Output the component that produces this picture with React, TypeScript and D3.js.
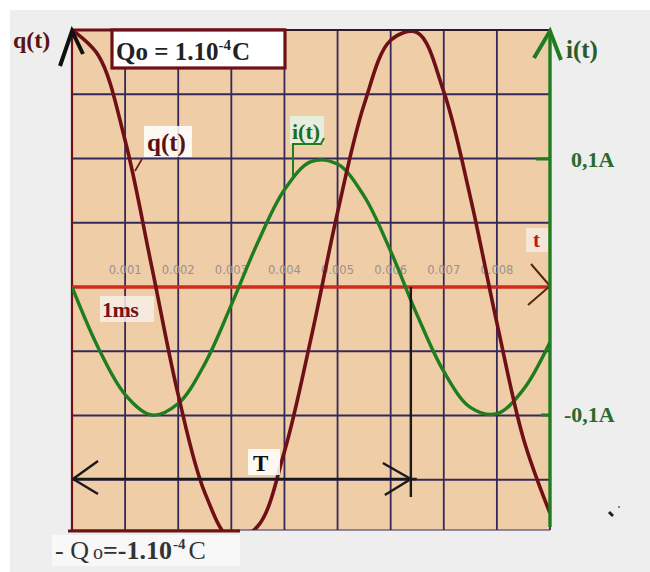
import React from "react";
import * as d3 from "d3";

// time samples in ms
const timesMs = [0, 0.5, 1, 1.5, 2, 2.5, 3, 3.5, 4, 4.5, 5, 5.5, 6, 6.5, 7, 7.5, 8, 8.5, 9];
// q(t), in units of Q0 = 1e-4 C
const qValues = [1.0, 0.9, 0.57, 0.08, -0.42, -0.8, -0.98, -0.93, -0.64, -0.2, 0.29, 0.71, 0.96, 0.99, 0.76, 0.35, -0.14, -0.59, -0.88];
// i(t), in units of 0.1 A
const iValues = [0, -0.48, -0.84, -1.0, -0.91, -0.6, -0.14, 0.35, 0.76, 0.98, 0.96, 0.71, 0.28, -0.22, -0.66, -0.94, -0.99, -0.8, -0.43];
// t-axis tick labels (seconds)
const tickLabels = ["0.001", "0.002", "0.003", "0.004", "0.005", "0.006", "0.007", "0.008"];
const gridMs = [0, 1, 2, 3, 4, 5, 6, 7, 8, 9];
const gridQ = [1, 0.75, 0.5, 0.25, 0, -0.25, -0.5, -0.75];
const periodMs = 6.38;

const W = 650;
const H = 572;
const L = 72;
const R = 550;
const TOP = 30;
const BOT = 530;

export default function App() {
  const x = d3.scaleLinear().domain([0, 9]).range([L, R]);
  const yq = d3.scaleLinear().domain([-1, 1]).range([544, TOP]);
  const yi = d3.scaleLinear().domain([-1, 1]).range([415, 159]);
  const y0 = yq(0);

  const qLine = d3
    .line<number>()
    .x((_, k) => x(timesMs[k]))
    .y((d) => yq(d))
    .curve(d3.curveCatmullRom.alpha(0.5));
  const iLine = d3
    .line<number>()
    .x((_, k) => x(timesMs[k]))
    .y((d) => yi(d))
    .curve(d3.curveCatmullRom.alpha(0.5));

  const serif = "'Liberation Serif', 'DejaVu Serif', serif";
  const gridColor = "#35285a";
  const maroon = "#6e1016";
  const green = "#1f7d1f";
  const xT = x(periodMs);

  return (
    <svg
      width={W}
      height={H}
      style={{ position: "absolute", left: 0, top: 0 }}
      xmlns="http://www.w3.org/2000/svg"
    >
      <defs>
        <clipPath id="plotClip">
          <rect x={L} y={20} width={R - L} height={BOT - 20} />
        </clipPath>
      </defs>
      <rect x={0} y={0} width={W} height={H} fill="#ffffff" />
      <rect x={10} y={10} width={W - 10} height={H - 10} fill="#eeeeee" />
      {/* plot background */}
      <rect x={L} y={TOP} width={R - L} height={BOT - TOP} fill="#efcda7" />

      {/* grid */}
      {gridMs.map((m) => (
        <line key={"v" + m} x1={x(m)} x2={x(m)} y1={TOP} y2={BOT} stroke={gridColor} strokeWidth={1.8} />
      ))}
      {gridQ.map((q) => (
        <line key={"h" + q} x1={L} x2={R} y1={yq(q)} y2={yq(q)} stroke={gridColor} strokeWidth={1.8} />
      ))}
      <line x1={L} x2={R} y1={BOT} y2={BOT} stroke={gridColor} strokeWidth={1.2} />
      <line x1={L} x2={L} y1={TOP} y2={BOT} stroke={maroon} strokeWidth={2.2} />

      {/* tick labels */}
      {tickLabels.map((t, k) => (
        <text
          key={t}
          x={x(k + 1)}
          y={274}
          textAnchor="middle"
          fontFamily="'DejaVu Sans', sans-serif"
          fontSize={11.5}
          fill="#9a9090"
        >
          {t}
        </text>
      ))}

      {/* t axis */}
      <line x1={L} x2={R} y1={y0} y2={y0} stroke="#d02a1c" strokeWidth={3.4} />
      <polyline
        points={`${R - 19},${y0 - 23} ${R},${y0 - 1} ${R - 22},${y0 + 18}`}
        fill="none"
        stroke="#5a2410"
        strokeWidth={2}
      />
      <rect x={526} y={228} width={22} height={24} fill="#f6ece4" opacity={0.8} />
      <text x={533} y={247} fontFamily={serif} fontWeight="bold" fontSize={21} fill="#c01818">
        t
      </text>

      {/* curves */}
      <g clipPath="url(#plotClip)">
        <path d={iLine(iValues) || ""} fill="none" stroke={green} strokeWidth={3.4} />
        <path d={qLine(qValues) || ""} fill="none" stroke={maroon} strokeWidth={3.6} />
      </g>

      {/* period T */}
      <line x1={xT} x2={xT} y1={y0} y2={497} stroke="#1a1a1a" strokeWidth={2.4} />
      <line x1={L} x2={xT + 6} y1={479} y2={479} stroke="#1a1a1a" strokeWidth={2.4} />
      <polyline points={`${L + 26},${461} ${L + 1},${479} ${L + 26},${494}`} fill="none" stroke="#1a1a1a" strokeWidth={2.4} />
      <polyline points={`${xT - 28},${463} ${xT},${479} ${xT - 26},${495}`} fill="none" stroke="#1a1a1a" strokeWidth={2.4} />
      <rect x={248} y={449} width={32} height={26} fill="#ffffff" opacity={0.85} />
      <text x={253} y={471} fontFamily={serif} fontWeight="bold" fontSize={23} fill="#111">
        T
      </text>

      {/* 1ms label */}
      <rect x={100} y={296} width={54} height={26} fill="#f7ede6" opacity={0.85} />
      <text x={102} y={317} fontFamily={serif} fontWeight="bold" fontSize={22} fill="#7a1016" letterSpacing={-0.5}>
        1ms
      </text>

      {/* q(t) label on curve */}
      <rect x={144} y={126} width={48} height={31} fill="#ffffff" opacity={0.85} />
      <text x={147} y={151} fontFamily={serif} fontWeight="bold" fontSize={25} fill="#5a1010">
        q(t)
      </text>
      <line x1={142} x2={135} y1={159} y2={171} stroke={maroon} strokeWidth={1.6} />

      {/* i(t) label on curve */}
      <rect x={290} y={116} width={34} height={28} fill="#e4f2e4" opacity={0.9} />
      <text x={292} y={139} fontFamily={serif} fontWeight="bold" fontSize={22} fill="#1d6d1d">
        i(t)
      </text>
      <polyline points={`${293},${176} ${293},${144} ${321},${144} ${324},${138}`} fill="none" stroke={green} strokeWidth={2} />

      {/* Qo box */}
      <line x1={L} x2={R} y1={TOP} y2={TOP} stroke="#2a1a2a" strokeWidth={1.8} />
      <line x1={L} x2={285} y1={TOP} y2={TOP} stroke={maroon} strokeWidth={3} />
      <rect x={112} y={30} width={173} height={38} fill="#ffffff" stroke={maroon} strokeWidth={3.2} />
      <text x={116} y={60} fontFamily={serif} fontWeight="bold" fontSize={25} fill="#222">
        Qo = 1.10
        <tspan dy={-10} fontSize={15}>
          -4
        </tspan>
        <tspan dy={10} dx={1}>C</tspan>
      </text>

      {/* left q axis arrow */}
      <polyline points={`${60},${66} ${L},${31} ${83},${54}`} fill="none" stroke="#111" strokeWidth={4} />
      <text x={13} y={48} fontFamily={serif} fontWeight="bold" fontSize={24} fill="#5a1212">
        q(t)
      </text>

      {/* right i axis */}
      <line x1={R} x2={R} y1={BOT - 3} y2={TOP} stroke={green} strokeWidth={3.4} />
      <polyline points={`${534},${58} ${R},${31} ${561},${60}`} fill="none" stroke={green} strokeWidth={4} />
      <text x={566} y={58} fontFamily={serif} fontWeight="bold" fontSize={25} fill="#2a5a2a">
        i(t)
      </text>
      <line x1={536} x2={R} y1={yi(1)} y2={yi(1)} stroke={green} strokeWidth={3} />
      <text x={571} y={167} fontFamily={serif} fontWeight="bold" fontSize={22} fill="#2a6a2a">
        0,1A
      </text>
      <line x1={541} x2={R} y1={yi(-1)} y2={yi(-1)} stroke={green} strokeWidth={3} />
      <text x={564} y={422} fontFamily={serif} fontWeight="bold" fontSize={22} fill="#2a6a2a">
        -0,1A
      </text>

      {/* bottom -Q0 */}
      <line x1={68} x2={240} y1={531} y2={531} stroke="#6a1414" strokeWidth={3} />
      <rect x={52} y={535} width={188} height={31} fill="#ffffff" opacity={0.6} />
      <text x={55} y={559} fontFamily={serif} fontSize={26} fill="#333">
        - Q
        <tspan fontSize={20} dx={4}>o</tspan>
        <tspan fontWeight="bold">=-1.10</tspan>
        <tspan dy={-10} fontSize={15} fontWeight="bold" dx={1}>
          -4
        </tspan>
        <tspan dy={10} dx={3}>C</tspan>
      </text>

      {/* stray dots */}
      <line x1={609} x2={613} y1={512} y2={516} stroke="#222" strokeWidth={3} />
      <circle cx={619} cy={507} r={1} fill="#666" />
    </svg>
  );
}
